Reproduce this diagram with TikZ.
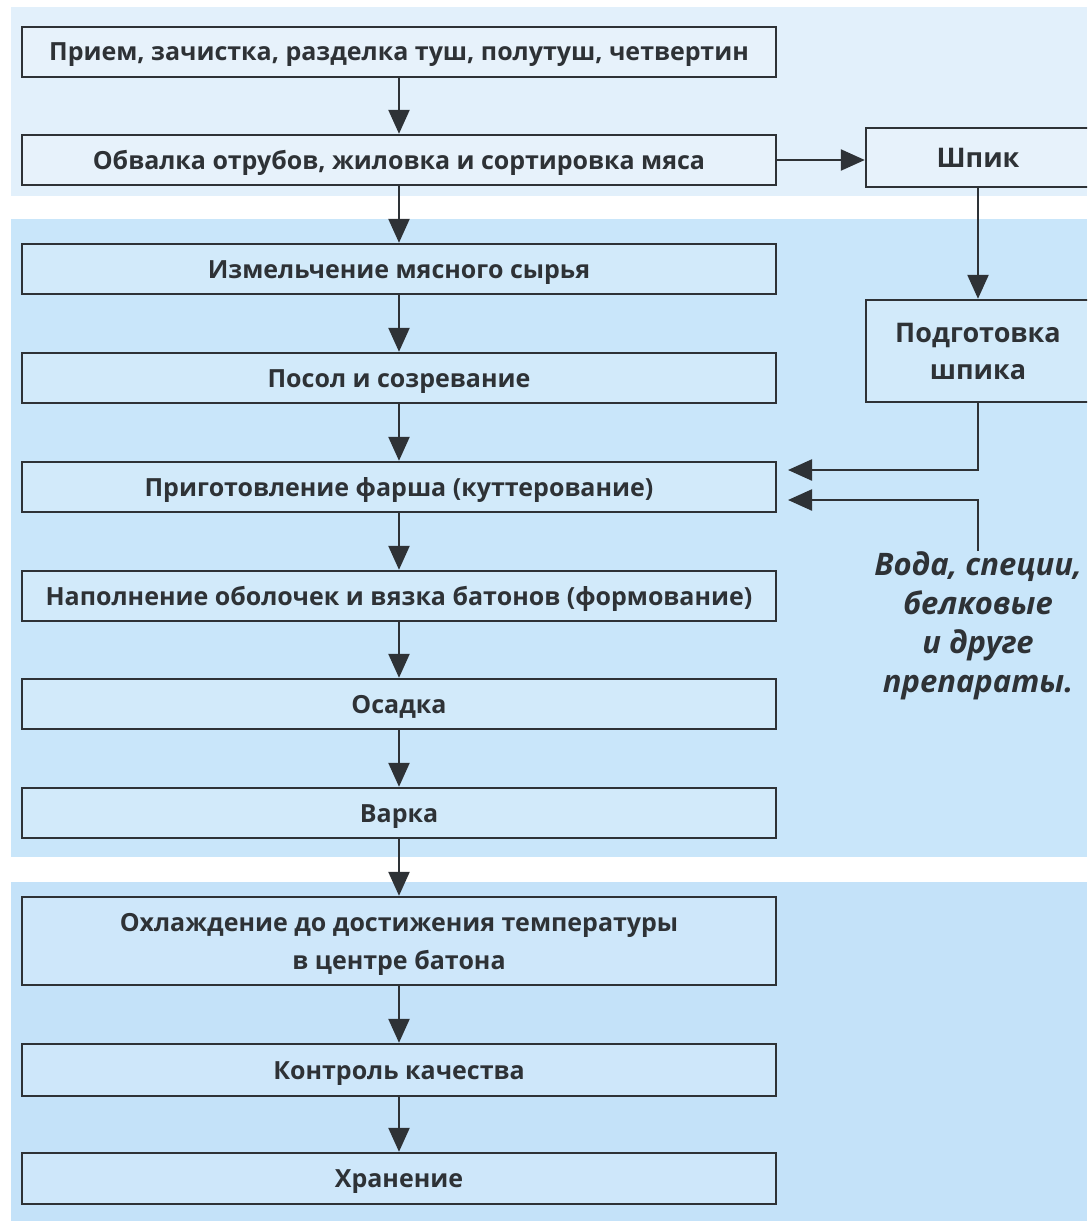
\documentclass[tikz,border=0pt]{standalone}
\usepackage{fontspec}
\setmainfont{Open Sans}
\usetikzlibrary{arrows.meta}
\definecolor{bandA}{HTML}{E2F0FB}
\definecolor{bandB}{HTML}{C9E6FA}
\definecolor{bandC}{HTML}{C4E2F9}
\definecolor{ink}{HTML}{2E3236}
\begin{document}
\begin{tikzpicture}[x=1pt,y=-1pt,
  box/.style={draw=ink,line width=2.4pt,fill=white,fill opacity=0.18,text opacity=1,
    font=\bfseries\fontsize{25}{38}\selectfont,text=ink,align=center,inner sep=0pt},
  lbox/.style={box,minimum width=754pt},
  one/.style={text height=18pt,text depth=0pt},
  rbox/.style={box,minimum width=224pt,font=\bfseries\fontsize{27}{37}\selectfont},
  arr/.style={draw=ink,line width=2.4pt,-{Triangle[length=24pt,width=21pt]}},
  note/.style={font=\bfseries\itshape\fontsize{31}{39}\selectfont,text=ink,align=center,inner sep=0pt}]
\useasboundingbox (0,0) rectangle (1087,1223);
\clip (0,0) rectangle (1087,1223);
\fill[bandA] (11,7) rectangle (1087,196);
\fill[bandB] (11,219) rectangle (1087,857);
\fill[bandC] (11,882) rectangle (1087,1221);

\node[lbox,one,minimum height=50pt] (b1) at (399,52) {Прием, зачистка, разделка туш, полутуш, четвертин};
\node[lbox,one,minimum height=50pt] (b2) at (399,160) {Обвалка отрубов, жиловка и сортировка мяса};
\node[lbox,one,minimum height=50pt] (b3) at (399,269) {Измельчение мясного сырья};
\node[lbox,one,minimum height=50pt] (b4) at (399,378) {Посол и созревание};
\node[lbox,one,minimum height=50pt] (b5) at (399,487) {Приготовление фарша (куттерование)};
\node[lbox,one,minimum height=50pt] (b6) at (399,596) {Наполнение оболочек и вязка батонов (формование)};
\node[lbox,one,minimum height=50pt] (b7) at (399,704) {Осадка};
\node[lbox,one,minimum height=50pt] (b8) at (399,813) {Варка};
\node[lbox,text depth=0pt,minimum height=88pt] (b9) at (399,941) {Охлаждение до достижения температуры\\в центре батона};
\node[lbox,one,minimum height=52pt] (b10) at (399,1070) {Контроль качества};
\node[lbox,one,minimum height=51pt] (b11) at (399,1178.5) {Хранение};

\node[rbox,text height=19.3pt,text depth=0pt,minimum height=59pt] (s1) at (978,157.5) {Шпик};
\node[rbox,minimum height=102pt] (s2) at (978,351) {Подготовка\\шпика};
\node[note,anchor=north] (t) at (978,551) {Вода, специи,\\белковые\\и друге\\препараты.};

\coordinate (p1) at (788,470);
\coordinate (p2) at (788,500);

\foreach \a/\b in {b1/b2,b2/b3,b3/b4,b4/b5,b5/b6,b6/b7,b7/b8,b8/b9,b9/b10,b10/b11}
  \draw[arr] (\a.south) -- (\b.north);
\draw[arr] (b2.east) -- (b2.east -| s1.west);
\draw[arr] (s1.south) -- (s2.north);
\draw[arr] (s2.south) |- (p1);
\draw[arr] (t.north) |- (p2);
\end{tikzpicture}
\end{document}
